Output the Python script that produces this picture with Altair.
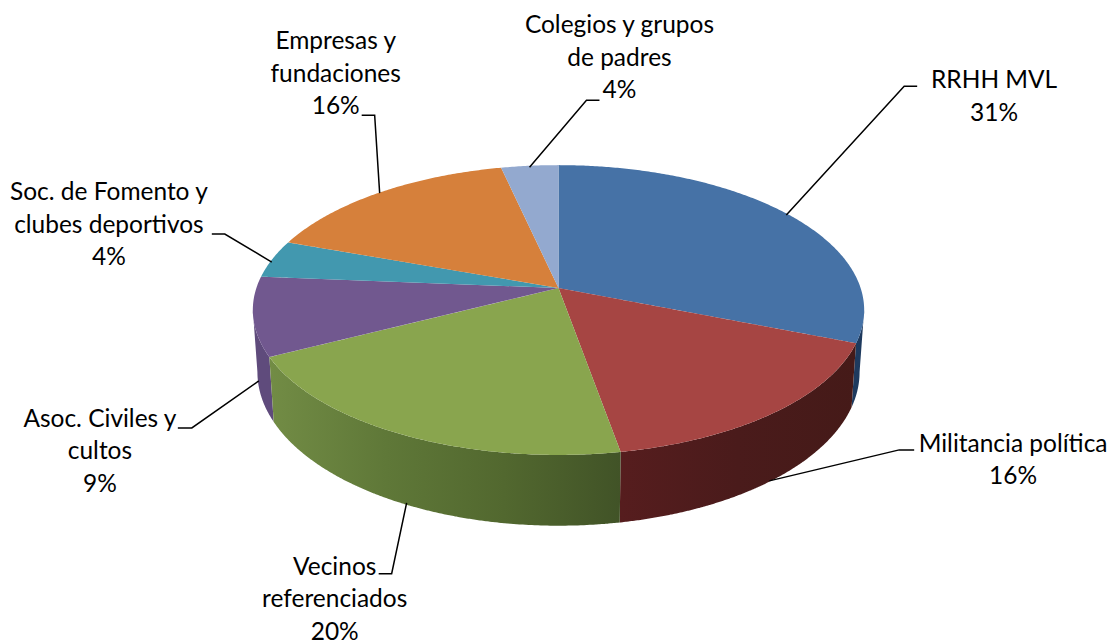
import math
import altair as alt
import pandas as pd

# ---- chart values ----
names = ["RRHH MVL", "Militancia política", "Vecinos\nreferenciados", "Asoc. Civiles y\ncultos",
         "Soc. de Fomento y\nclubes deportivos", "Empresas y\nfundaciones", "Colegios y grupos\nde padres"]
shares = [31.0, 16.2, 20.3, 8.8, 4.2, 16.0, 3.5]
percent_labels = ["31%", "16%", "20%", "9%", "4%", "16%", "4%"]
top_colors = ["#4672A6", "#A64543", "#89A54E", "#71588F", "#4298AF", "#D6803B", "#93A9CF"]
wall_stops = [
    ["#1E3A5E", "#1E3A5E"],
    ["#561D1E", "#4A1B1B", "#451A18"],
    ["#728C45", "#5F7838", "#52682F", "#415327"],
    ["#5F4B7C", "#5F4B7C"],
    None, None, None,
]

# ---- layout (page pixels) ----
label_x = [995, 1014, 335, 100, 109, 336, 620]
label_y = [81, 445, 568, 420, 193, 42, 26]
line_step = 32.5
leaders = [
    [(787, 215), (905, 86), (918, 86)],
    [(770, 481), (900, 450), (915, 450)],
    [(407, 503), (392, 574), (379, 574)],
    [(259, 381), (192, 428), (178, 428)],
    [(272, 262), (225, 234), (212, 234)],
    [(380, 193), (375, 115), (362, 115)],
    [(530, 167), (587, 100), (600, 100)],
]
CX, CY, F, G, K = 559.0, 288.0, 302.4, 141.7, 0.1518
VIS0, VIS1 = 98.7, 261.3


def top(deg):
    t = math.radians(deg)
    u, v = math.sin(t), -math.cos(t)
    d = 1 - K * v
    return CX + F * u / d, CY + G * v / d


def bottom(deg):
    t = math.radians(deg)
    u, v = math.sin(t), -math.cos(t)
    d = 1 - K * v
    return CX + 0.985 * F * u / d, CY + 60.8 + 1.06 * G * v / d


def arc(fn, a, b):
    n = max(2, int(abs(b - a) / 0.5) + 1)
    return [fn(a + (b - a) * i / n) for i in range(n + 1)]


def columns(poly):
    """Vertical spans of a polygon, as rows for an area mark."""
    xs = sorted({round(p[0], 2) for p in poly})
    rows = []
    for x in xs:
        ys = []
        for (x0, y0), (x1, y1) in zip(poly, poly[1:] + poly[:1]):
            lo, hi = min(x0, x1), max(x0, x1)
            if lo - 0.011 <= x <= hi + 0.011:
                if abs(x1 - x0) < 1e-6:
                    ys += [y0, y1]
                else:
                    s = min(1, max(0, (x - x0) / (x1 - x0)))
                    ys.append(y0 + (y1 - y0) * s)
        rows.append({"x": x, "y": min(ys), "y2": max(ys)})
    return rows


x_scale = alt.Scale(domain=[8, 1108], range=[0, 1100], nice=False, zero=False)
y_scale = alt.Scale(domain=[8, 635], range=[0, 627], nice=False, zero=False)


def area_layer(rows, fill):
    return alt.Chart(pd.DataFrame(rows)).mark_area(fill=fill, stroke=None, opacity=1).encode(
        x=alt.X("x:Q", scale=x_scale, axis=None),
        y=alt.Y("y:Q", scale=y_scale, axis=None),
        y2="y2:Q",
    )


layers = []
start = 0.0
angles = []
for s in shares:
    angles.append((start, start + s * 3.6))
    start += s * 3.6

# walls
for (a, b), stops in zip(angles, wall_stops):
    lo, hi = max(a, VIS0), min(b, VIS1)
    if stops is None or lo >= hi:
        continue
    poly = arc(top, lo, hi) + arc(bottom, hi, lo)
    grad = alt.Gradient(
        gradient="linear", x1=0, x2=1, y1=0, y2=0,
        stops=[alt.GradientStop(color=c, offset=i / (len(stops) - 1)) for i, c in enumerate(stops)],
    )
    layers.append((a, area_layer(columns(poly), grad)))
# draw back-to-front on the wall: the extreme sides first, the front last
layers = [l for _, l in sorted(layers, key=lambda p: -abs(p[0] - 150))]

# top faces
for (a, b), col in zip(angles, top_colors):
    poly = [(CX, CY)] + arc(top, a, b)
    layers.append(area_layer(columns(poly), col))

# leader lines
lead_rows = []
for i, pts in enumerate(leaders):
    for j, (x, y) in enumerate(pts):
        lead_rows.append({"id": i, "o": j, "x": x, "y": y})
layers.append(
    alt.Chart(pd.DataFrame(lead_rows)).mark_line(color="#000000", strokeWidth=1.5).encode(
        x=alt.X("x:Q", scale=x_scale, axis=None),
        y=alt.Y("y:Q", scale=y_scale, axis=None),
        detail="id:N",
        order="o:Q",
    )
)

# labels
label_rows = []
for name, pct, lx, ly in zip(names, percent_labels, label_x, label_y):
    for j, line in enumerate(name.split("\n") + [pct]):
        label_rows.append({"t": line, "x": lx, "y": ly + j * line_step})
layers.append(
    alt.Chart(pd.DataFrame(label_rows)).mark_text(
        font="Lato", fontSize=24.5, color="#000000", align="center", baseline="middle"
    ).encode(
        x=alt.X("x:Q", scale=x_scale, axis=None),
        y=alt.Y("y:Q", scale=y_scale, axis=None),
        text="t:N",
    )
)

chart = alt.layer(*layers).properties(width=1100, height=627, padding=0, background="#FFFFFF").configure_view(stroke=None)
chart.save("out.html", embed_options={"renderer": "svg", "actions": False})
